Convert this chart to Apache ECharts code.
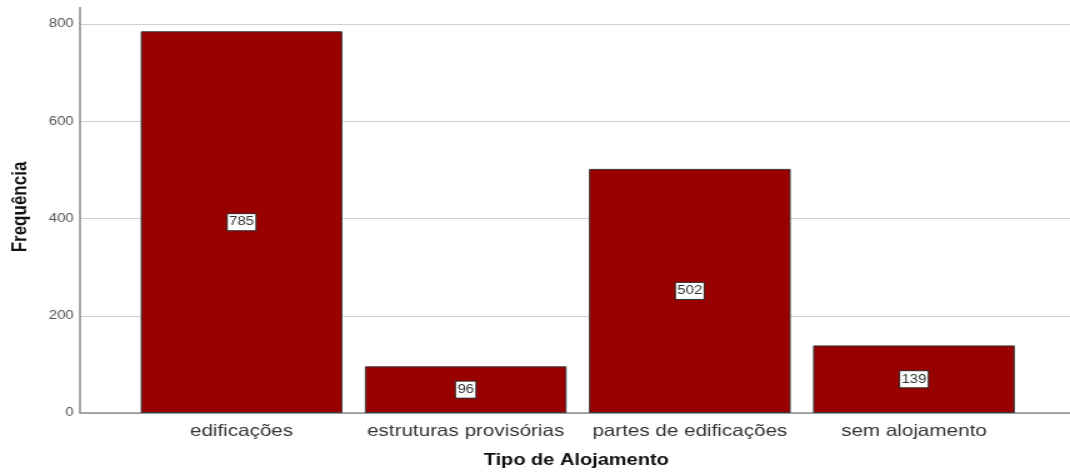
<!DOCTYPE html>
<html>
<head>
<meta charset="utf-8">
<script src="https://cdn.jsdelivr.net/npm/echarts@6/dist/echarts.min.js"></script>
<style>
html,body{margin:0;padding:0;background:#fff;overflow:hidden;width:1070px;height:473px;}
#chart{width:856px;height:473px;transform:scaleX(1.25);transform-origin:0 0;}
</style>
</head>
<body>
<div id="chart"></div>
<script>
const categories = ['edificações', 'estruturas provisórias', 'partes de edificações', 'sem alojamento'];
const values = [785, 96, 502, 139];
const yTicks = [0, 200, 400, 600, 800];
const xTitle = 'Tipo de Alojamento';
const yTitle = 'Frequência';

const chart = echarts.init(document.getElementById('chart'));
const font = '"Liberation Sans", Arial, sans-serif';
chart.setOption({
  animation: false,
  backgroundColor: '#ffffff',
  grid: [
    { left: 64, right: 0, top: 24, bottom: 60 },
    { left: 103.6, right: 35.2, top: 24, bottom: 60 }
  ],
  xAxis: [
    { type: 'category', gridIndex: 0, data: categories, show: true,
      axisLine: { show: true, lineStyle: { color: '#8c8c8c', width: 1.5 } },
      axisTick: { show: false }, axisLabel: { show: false } },
    { type: 'category', gridIndex: 1, data: categories,
      axisLine: { show: false }, axisTick: { show: false },
      axisLabel: { interval: 0, hideOverlap: false, fontFamily: font, fontSize: 16.5, color: '#333', margin: 10 } }
  ],
  yAxis: [
    { type: 'value', gridIndex: 0, min: yTicks[0], max: yTicks[yTicks.length - 1], interval: 200,
      axisLine: { show: true, lineStyle: { color: '#8c8c8c', width: 1.5 } },
      axisTick: { show: false },
      axisLabel: { fontFamily: font, fontSize: 12, color: '#555', margin: 5 },
      splitLine: { show: true, lineStyle: { color: '#cfcfcf', width: 1 } } },
    { type: 'value', gridIndex: 1, min: yTicks[0], max: yTicks[yTicks.length - 1], interval: 200,
      show: false, splitLine: { show: false } }
  ],
  graphic: [
    { type: 'line', shape: { x1: 64, y1: 7, x2: 64, y2: 24 }, style: { stroke: '#8c8c8c', lineWidth: 1.5 } },
    { type: 'text', x: 461, y: 461,
      style: { text: xTitle, font: 'bold 16px ' + font, fill: '#111', textAlign: 'center', textVerticalAlign: 'middle' } },
    { type: 'text', rotation: Math.PI / 2, x: 16, y: 207,
      style: { text: yTitle, font: 'bold 17px ' + font, fill: '#111', textAlign: 'center', textVerticalAlign: 'middle' } }
  ],
  series: [{
    type: 'bar', xAxisIndex: 1, yAxisIndex: 1, data: values,
    barCategoryGap: '10%',
    itemStyle: { color: '#990000', borderColor: '#3a3a3a', borderWidth: 1 },
    label: { show: true, position: 'inside', fontFamily: font, fontSize: 12, color: '#333',
      backgroundColor: '#fff', borderColor: '#333', borderWidth: 1, padding: [2, 1, 2, 1] }
  }]
});
</script>
</body>
</html>
